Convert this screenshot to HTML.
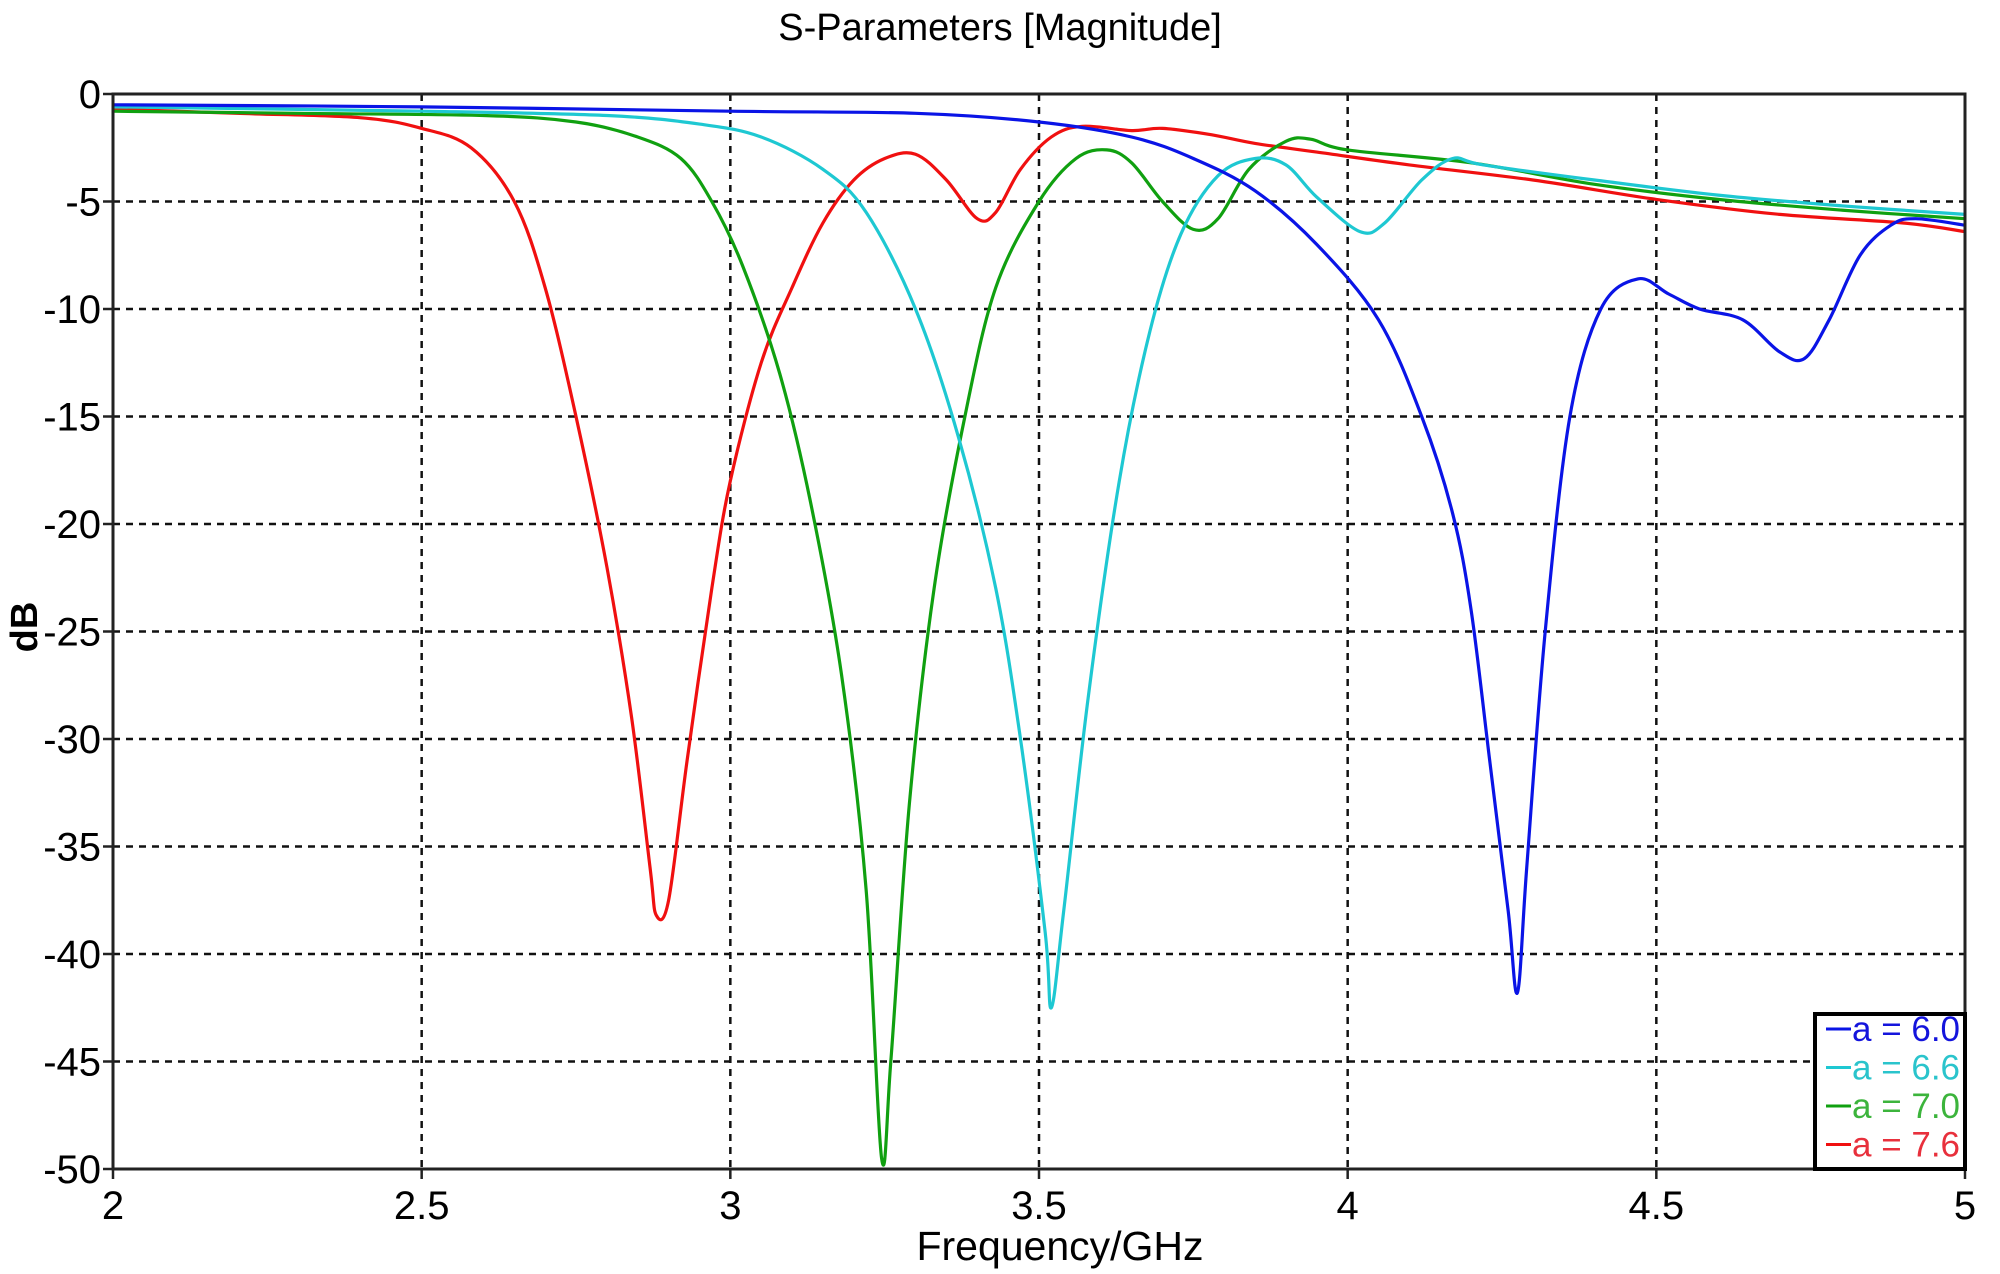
<!DOCTYPE html>
<html><head><meta charset="utf-8"><style>
body{margin:0;background:#fff;}
svg{display:block;font-family:"Liberation Sans",Arial,sans-serif;}
</style></head><body>
<svg id="chart" width="2000" height="1274" viewBox="0 0 2000 1274">
<text x="1000" y="40" font-size="38" text-anchor="middle">S-Parameters [Magnitude]</text>
<g id="grid"></g>
<g id="ticks"></g>
<g id="series"></g>
<rect x="113" y="94" width="1852" height="1075" fill="none" stroke="#222" stroke-width="3"/>
<text x="1060" y="1260" font-size="41" text-anchor="middle">Frequency/GHz</text>
<text transform="translate(37,627) rotate(-90)" font-size="38" font-weight="bold" text-anchor="middle">dB</text>
<g id="legend"></g>
</svg>
<script>
const xTicks=[2,2.5,3,3.5,4,4.5,5];
const xTickLabels=["2","2.5","3","3.5","4","4.5","5"];
const yTicks=[0,-5,-10,-15,-20,-25,-30,-35,-40,-45,-50];
const seriesNames=["a = 6.0","a = 6.6","a = 7.0","a = 7.6"];
const freqA60=[2.0,2.5,3.0,3.3,3.5,3.65,3.75,3.85,3.95,4.05,4.12,4.17,4.2,4.23,4.26,4.275,4.29,4.32,4.36,4.41,4.47,4.52,4.57,4.64,4.7,4.74,4.78,4.83,4.88,4.92,5.0];
const dbA60=[-0.5,-0.6,-0.8,-0.9,-1.3,-2,-3,-4.5,-7,-10.5,-15,-19.5,-24,-31,-38,-41.8,-36,-25,-15,-10,-8.6,-9.3,-10,-10.5,-12,-12.3,-10.5,-7.5,-6.1,-5.8,-6.1];
const freqA66=[2.0,2.5,2.8,2.95,3.05,3.15,3.22,3.3,3.37,3.43,3.47,3.51,3.52,3.54,3.58,3.63,3.68,3.73,3.79,3.85,3.9,3.95,4.02,4.06,4.12,4.17,4.22,4.4,4.6,4.8,5.0];
const dbA66=[-0.6,-0.8,-1.0,-1.4,-2,-3.5,-5.5,-10,-16,-23,-30,-39,-42.5,-38,-28,-18,-11,-6.5,-3.8,-3,-3.3,-4.8,-6.4,-6,-4,-3,-3.3,-4,-4.7,-5.2,-5.6];
const freqA70=[2.0,2.3,2.6,2.75,2.85,2.92,2.97,3.02,3.08,3.13,3.18,3.22,3.245,3.26,3.29,3.33,3.38,3.43,3.5,3.56,3.61,3.65,3.7,3.75,3.79,3.84,3.9,3.94,4.0,4.2,4.4,4.6,4.8,5.0];
const dbA70=[-0.8,-0.9,-1.0,-1.3,-2,-3,-5,-8,-13,-19,-27,-37,-49.5,-45,-33,-23,-15,-9,-5,-3,-2.6,-3.2,-5,-6.3,-5.8,-3.5,-2.2,-2.1,-2.6,-3.2,-4.2,-4.9,-5.4,-5.8];
const freqA76=[2.0,2.2,2.4,2.5,2.58,2.65,2.7,2.75,2.8,2.84,2.87,2.88,2.9,2.93,2.97,3.0,3.05,3.1,3.15,3.2,3.25,3.3,3.35,3.4,3.43,3.47,3.52,3.57,3.65,3.7,3.78,3.85,3.95,4.1,4.3,4.5,4.7,4.9,5.0];
const dbA76=[-0.7,-0.9,-1.1,-1.6,-2.5,-5,-9,-15,-22,-29,-36,-38.2,-37.5,-31,-23,-18,-12.5,-9,-6,-4,-3,-2.8,-4,-5.8,-5.5,-3.5,-2,-1.5,-1.7,-1.6,-1.9,-2.3,-2.7,-3.3,-4,-4.9,-5.6,-6,-6.4];
const lineColors=["#0a14e6","#1ec8d2","#10a010","#f01010"];
const textColors=["#1414dc","#2ac4cc","#3cb43c","#e8303c"];

const NS="http://www.w3.org/2000/svg";
const L=113,R=1965,T=94,B=1169;
const xs=f=>L+(f-2)/3*(R-L);
const ys=d=>T+(0-d)/50*(B-T);
function mk(tag,attrs,parent){const e=document.createElementNS(NS,tag);for(const k in attrs)e.setAttribute(k,attrs[k]);parent.appendChild(e);return e;}
const grid=document.getElementById('grid'),ticks=document.getElementById('ticks'),ser=document.getElementById('series'),leg=document.getElementById('legend');
xTicks.forEach((v,i)=>{
  const x=xs(v);
  if(i>0&&i<xTicks.length-1){const g=mk('line',{x1:x,x2:x,y1:T,y2:B,stroke:'#111','stroke-width':2.5,'stroke-dasharray':'7,6'},grid);
  
  }
  const tk=mk('line',{x1:x,x2:x,y1:B,y2:B+10,stroke:'#222','stroke-width':2.5},grid);
  
  
  const t=mk('text',{x:x,y:1219,'font-size':40,'text-anchor':'middle'},ticks);
  t.textContent=xTickLabels[i];
  
  
});
yTicks.forEach(v=>{
  const y=ys(v);
  if(v!==0&&v!==-50){const g=mk('line',{x1:L,x2:R,y1:y,y2:y,stroke:'#111','stroke-width':2.5,'stroke-dasharray':'7,6'},grid);
  
  }
  const tk=mk('line',{x1:L-10,x2:L,y1:y,y2:y,stroke:'#222','stroke-width':2.5},grid);
  
  
  const t=mk('text',{x:101,y:y+14,'font-size':40,'text-anchor':'end'},ticks);
  t.textContent=String(v);
  
  
});
function smoothPath(P){
  let d='M'+P[0][0].toFixed(1)+','+P[0][1].toFixed(1);
  for(let i=0;i<P.length-1;i++){
    const p0=P[i-1]||P[i],p1=P[i],p2=P[i+1],p3=P[i+2]||P[i+1];
    const c1=[p1[0]+(p2[0]-p0[0])/6,p1[1]+(p2[1]-p0[1])/6];
    const c2=[p2[0]-(p3[0]-p1[0])/6,p2[1]-(p3[1]-p1[1])/6];
    d+=' C'+c1.map(v=>v.toFixed(1)).join(',')+' '+c2.map(v=>v.toFixed(1)).join(',')+' '+p2[0].toFixed(1)+','+p2[1].toFixed(1);
  }
  return d;
}
const allF=[freqA60,freqA66,freqA70,freqA76],allD=[dbA60,dbA66,dbA70,dbA76];
[3,2,1,0].forEach(i=>{
  const P=allF[i].map((f,j)=>[xs(f),ys(allD[i][j])]);
  const p=mk('path',{d:smoothPath(P),fill:'none',stroke:lineColors[i],'stroke-width':3.2,'stroke-linejoin':'round'},ser);
  
  
});
const box=mk('rect',{x:1815,y:1014,width:150,height:155,fill:'#fff',stroke:'#000','stroke-width':4},leg);


seriesNames.forEach((n,i)=>{
  const y=1029+i*38.5;
  const l=mk('line',{x1:1826,x2:1851,y1:y,y2:y,stroke:lineColors[i],'stroke-width':3},leg);
  
  
  const t=mk('text',{x:1852,y:y+12,'font-size':35,fill:textColors[i]},leg);
  t.textContent=n;
  
  
});
</script>
</body></html>
